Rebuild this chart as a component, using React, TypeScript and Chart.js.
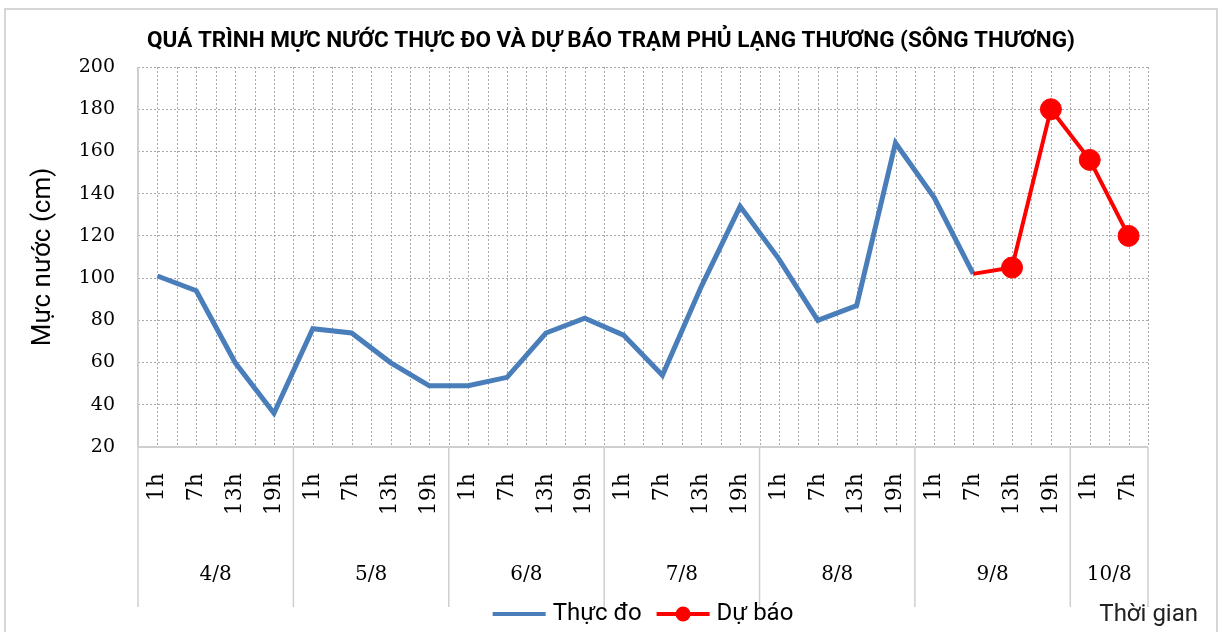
import React, { useEffect, useRef } from 'react';
import { Chart, registerables } from 'chart.js';

Chart.register(...registerables);

// ---- data ----
const hourLabels = [
  '1h', '7h', '13h', '19h',
  '1h', '7h', '13h', '19h',
  '1h', '7h', '13h', '19h',
  '1h', '7h', '13h', '19h',
  '1h', '7h', '13h', '19h',
  '1h', '7h', '13h', '19h',
  '1h', '7h',
];
const dateLabels = ['4/8', '5/8', '6/8', '7/8', '8/8', '9/8', '10/8'];
const dateSpans = [4, 4, 4, 4, 4, 4, 2];

const observed = [
  101, 94, 60, 36,
  76, 74, 60, 49,
  49, 53, 74, 81,
  73, 54, 96, 134,
  109, 80, 87, 164,
  138, 102, null, null,
  null, null,
];
const forecast = [
  null, null, null, null,
  null, null, null, null,
  null, null, null, null,
  null, null, null, null,
  null, null, null, null,
  null, 102, 105, 180,
  156, 120,
];
const forecastMarker = [
  0, 0, 0, 0, 0, 0, 0, 0, 0, 0, 0, 0, 0, 0, 0, 0, 0, 0, 0, 0,
  0, 0, 10.5, 10.5, 10.5, 10.5,
];

const yMin = 20;
const yMax = 200;
const yStep = 20;

const titleText = 'QUÁ TRÌNH MỰC NƯỚC THỰC ĐO VÀ DỰ BÁO TRẠM PHỦ LẠNG THƯƠNG (SÔNG THƯƠNG)';
const yTitle = 'Mực nước (cm)';
const xTitle = 'Thời gian';
const seriesNames = ['Thực đo', 'Dự báo'];

const BLUE = '#4a7ebb';
const RED = '#ff0000';
const GRID = '#a8a8a8';
const AXIS = '#cfcfcf';
const SANS = 'Roboto, "Noto Sans", sans-serif';
const SERIF = '"DejaVu Serif", serif';

const customPlugin = {
  id: 'customDecor',
  beforeDatasetsDraw(chart: any) {
    const { ctx, chartArea, scales } = chart;
    const x = scales.x;
    const n = hourLabels.length;
    const half = (x.getPixelForValue(1) - x.getPixelForValue(0)) / 2;
    ctx.save();
    ctx.strokeStyle = GRID;
    ctx.lineWidth = 1;
    ctx.setLineDash([2, 2]);
    const vline = (px: number) => {
      const xx = Math.round(px) + 0.5;
      ctx.beginPath();
      ctx.moveTo(xx, chartArea.top);
      ctx.lineTo(xx, chartArea.bottom);
      ctx.stroke();
    };
    for (let i = 0; i < n; i++) {
      const c = x.getPixelForValue(i);
      vline(c);
      vline(c + half);
    }
    ctx.setLineDash([]);
    ctx.strokeStyle = AXIS;
    ctx.lineWidth = 2;
    ctx.beginPath();
    ctx.moveTo(chartArea.left, chartArea.top);
    ctx.lineTo(chartArea.left, chartArea.bottom);
    ctx.stroke();
    ctx.beginPath();
    ctx.moveTo(chartArea.left, chartArea.bottom);
    ctx.lineTo(chartArea.right, chartArea.bottom);
    ctx.stroke();
    ctx.restore();
  },
  afterDraw(chart: any) {
    const { ctx, chartArea, scales } = chart;
    const x = scales.x;
    const half = (x.getPixelForValue(1) - x.getPixelForValue(0)) / 2;
    ctx.save();

    // title
    ctx.fillStyle = '#000';
    ctx.font = `bold 22.5px ${SANS}`;
    ctx.textAlign = 'center';
    ctx.textBaseline = 'middle';
    ctx.fillText(titleText, chart.width / 2, 41);

    // group separators and date labels
    ctx.strokeStyle = AXIS;
    ctx.lineWidth = 1.5;
    const sepBottom = chartArea.bottom + 160;
    let idx = 0;
    const boundary = (i: number) => x.getPixelForValue(i) - half;
    const sep = (px: number) => {
      ctx.beginPath();
      ctx.moveTo(px, chartArea.bottom);
      ctx.lineTo(px, sepBottom);
      ctx.stroke();
    };
    sep(boundary(0));
    ctx.fillStyle = '#000';
    ctx.font = `20px ${SERIF}`;
    ctx.textAlign = 'center';
    ctx.textBaseline = 'middle';
    dateSpans.forEach((span, g) => {
      const start = boundary(idx);
      const end = boundary(idx + span - 1) + 2 * half;
      sep(end);
      ctx.fillText(dateLabels[g], (start + end) / 2, chartArea.bottom + 128);
      idx += span;
    });

    // legend
    ctx.font = `24px ${SANS}`;
    ctx.textAlign = 'left';
    const symW = 53;
    const gap = 7;
    const itemGap = 15;
    const w0 = ctx.measureText(seriesNames[0]).width;
    const w1 = ctx.measureText(seriesNames[1]).width;
    const total = symW + gap + w0 + itemGap + symW + gap + w1;
    const ly = chartArea.bottom + 167;
    let lx = (chartArea.left + chartArea.right) / 2 - total / 2;
    ctx.lineWidth = 4;
    ctx.strokeStyle = BLUE;
    ctx.beginPath();
    ctx.moveTo(lx, ly);
    ctx.lineTo(lx + symW, ly);
    ctx.stroke();
    ctx.fillStyle = '#000';
    ctx.fillText(seriesNames[0], lx + symW + gap, ly);
    lx += symW + gap + w0 + itemGap;
    ctx.strokeStyle = RED;
    ctx.beginPath();
    ctx.moveTo(lx, ly);
    ctx.lineTo(lx + symW, ly);
    ctx.stroke();
    ctx.fillStyle = RED;
    ctx.beginPath();
    ctx.arc(lx + symW / 2, ly, 7.5, 0, Math.PI * 2);
    ctx.fill();
    ctx.fillStyle = '#000';
    ctx.fillText(seriesNames[1], lx + symW + gap, ly);

    // x-axis caption
    ctx.fillStyle = '#222';
    ctx.textAlign = 'right';
    ctx.fillText(xTitle, chart.width - 24, ly + 1);

    // outer frame
    ctx.strokeStyle = '#d6d6d6';
    ctx.lineWidth = 2;
    ctx.strokeRect(5, 9, chart.width - 10, chart.height + 20);
    ctx.restore();
  },
};

export default function App() {
  const ref = useRef<HTMLCanvasElement | null>(null);

  useEffect(() => {
    if (!ref.current) return;
    const chart = new Chart(ref.current, {
      type: 'line',
      data: {
        labels: hourLabels,
        datasets: [
          {
            label: seriesNames[0],
            data: observed,
            borderColor: BLUE,
            backgroundColor: BLUE,
            borderWidth: 5,
            pointRadius: 0,
            tension: 0,
            order: 1,
            spanGaps: false,
          },
          {
            label: seriesNames[1],
            data: forecast,
            borderColor: RED,
            backgroundColor: RED,
            borderWidth: 4,
            pointRadius: forecastMarker,
            pointHoverRadius: forecastMarker,
            pointBackgroundColor: RED,
            pointBorderColor: RED,
            pointBorderWidth: 1,
            tension: 0,
            order: 0,
            spanGaps: false,
          },
        ],
      },
      options: {
        responsive: false,
        animation: false,
        devicePixelRatio: 1,
        layout: { padding: { left: 0, right: 74, top: 67, bottom: 0 } },
        plugins: {
          legend: { display: false },
          tooltip: { enabled: false },
          title: { display: false },
        },
        scales: {
          x: {
            type: 'category',
            offset: true,
            grid: { display: false, drawTicks: false },
            border: { display: false },
            ticks: {
              autoSkip: false,
              maxRotation: 90,
              minRotation: 90,
              padding: 26,
              color: '#000',
              font: { family: SERIF, size: 22 },
            },
            afterFit: (scale: any) => {
              scale.height = 185;
            },
          },
          y: {
            min: yMin,
            max: yMax,
            grid: { color: GRID, lineWidth: 1, drawTicks: false },
            border: { display: false, dash: [2, 2] },
            ticks: {
              stepSize: yStep,
              padding: 23,
              color: '#000',
              font: { family: SERIF, size: 19 },
            },
            title: {
              display: true,
              text: yTitle,
              color: '#000',
              font: { family: SANS, size: 26 },
              padding: { top: 28, bottom: 0 },
            },
            afterFit: (scale: any) => {
              scale.width = 138;
            },
          },
        },
      },
      plugins: [customPlugin],
    });
    return () => chart.destroy();
  }, []);

  return (
    <div style={{ position: 'absolute', left: 0, top: 0, width: 1222, height: 632, background: '#fff' }}>
      <canvas ref={ref} width={1222} height={632} style={{ display: 'block' }} />
    </div>
  );
}
